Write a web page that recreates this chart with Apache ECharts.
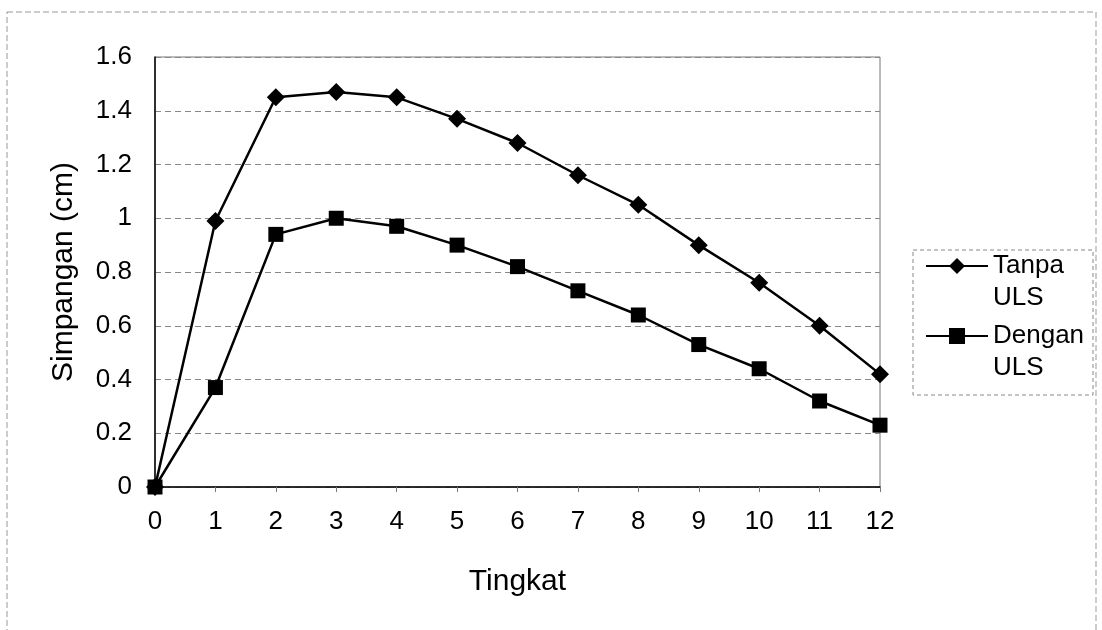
<!DOCTYPE html>
<html>
<head>
<meta charset="utf-8">
<script src="https://cdn.jsdelivr.net/npm/echarts@6/dist/echarts.min.js"></script>
<style>
    html, body { margin: 0; padding: 0; background: #fff; }
    #chart { width: 1102px; height: 630px; }
</style>
</head>
<body>
<div id="chart"></div>
<script>
// tingkat (storey levels) on the x axis
const levels = ["0", "1", "2", "3", "4", "5", "6", "7", "8", "9", "10", "11", "12"];
// displacement values (cm)
const tanpaUls = [0, 0.99, 1.45, 1.47, 1.45, 1.37, 1.28, 1.16, 1.05, 0.9, 0.76, 0.6, 0.42];
const denganUls = [0, 0.37, 0.94, 1.0, 0.97, 0.9, 0.82, 0.73, 0.64, 0.53, 0.44, 0.32, 0.23];
const yTicks = [0, 0.2, 0.4, 0.6, 0.8, 1, 1.2, 1.4, 1.6];

const font = "Liberation Sans, Arial, sans-serif";

const chart = echarts.init(document.getElementById("chart"));

chart.setOption({
    animation: false,
    backgroundColor: "#fff",
    graphic: [
        {
            // faint frame around the whole chart (bottom edge is off the page)
            type: "rect",
            shape: { x: 7, y: 12, width: 1089, height: 640 },
            style: { fill: null, stroke: "#999", lineWidth: 1, lineDash: [6, 3] },
            silent: true,
        },
        {
            // legend frame
            type: "rect",
            shape: { x: 913, y: 250, width: 180, height: 145 },
            style: { fill: null, stroke: "#888", lineWidth: 1, lineDash: [4, 3] },
            silent: true,
        },
    ],
    grid: {
        left: 155,
        right: 222,
        top: 57,
        bottom: 143,
        show: true,
        borderColor: "#777",
        borderWidth: 1,
    },
    legend: {
        left: 925,
        top: 218,
        orient: "vertical",
        padding: 0,
        itemGap: -26,
        itemWidth: 62,
        itemHeight: 20,
        // a blank first line keeps the marker level with the first word
        formatter: (name) => "\n" + name.replace(" ", "\n"),
        textStyle: {
            fontFamily: font,
            fontSize: 26,
            color: "#000",
            lineHeight: 32,
        },
        data: ["Tanpa ULS", "Dengan ULS"],
    },
    xAxis: {
        type: "category",
        data: levels,
        boundaryGap: false,
        name: "Tingkat",
        nameLocation: "middle",
        nameGap: 80,
        nameTextStyle: { fontFamily: font, fontSize: 30, color: "#000" },
        axisLine: { lineStyle: { color: "#000", width: 1.5 } },
        axisTick: { alignWithLabel: true, length: 5, lineStyle: { color: "#777" } },
        axisLabel: { fontFamily: font, fontSize: 26, color: "#000", margin: 22 },
        splitLine: { show: false },
    },
    yAxis: {
        type: "value",
        min: yTicks[0],
        max: yTicks[yTicks.length - 1],
        interval: 0.2,
        name: "Simpangan (cm)",
        nameLocation: "middle",
        nameGap: 76,
        nameTextStyle: { fontFamily: font, fontSize: 30, color: "#000" },
        axisLine: { show: true, lineStyle: { color: "#000", width: 1.5 } },
        axisTick: { show: false },
        axisLabel: { fontFamily: font, fontSize: 26, color: "#000", margin: 23 },
        splitLine: { lineStyle: { color: "#888", type: [6, 4], width: 1 } },
    },
    series: [
        {
            name: "Tanpa ULS",
            type: "line",
            data: tanpaUls,
            symbol: "diamond",
            symbolSize: 18,
            lineStyle: { color: "#000", width: 2.5 },
            itemStyle: { color: "#000" },
        },
        {
            name: "Dengan ULS",
            type: "line",
            data: denganUls,
            symbol: "rect",
            symbolSize: 15,
            lineStyle: { color: "#000", width: 2.5 },
            itemStyle: { color: "#000" },
        },
    ],
});
</script>
</body>
</html>
